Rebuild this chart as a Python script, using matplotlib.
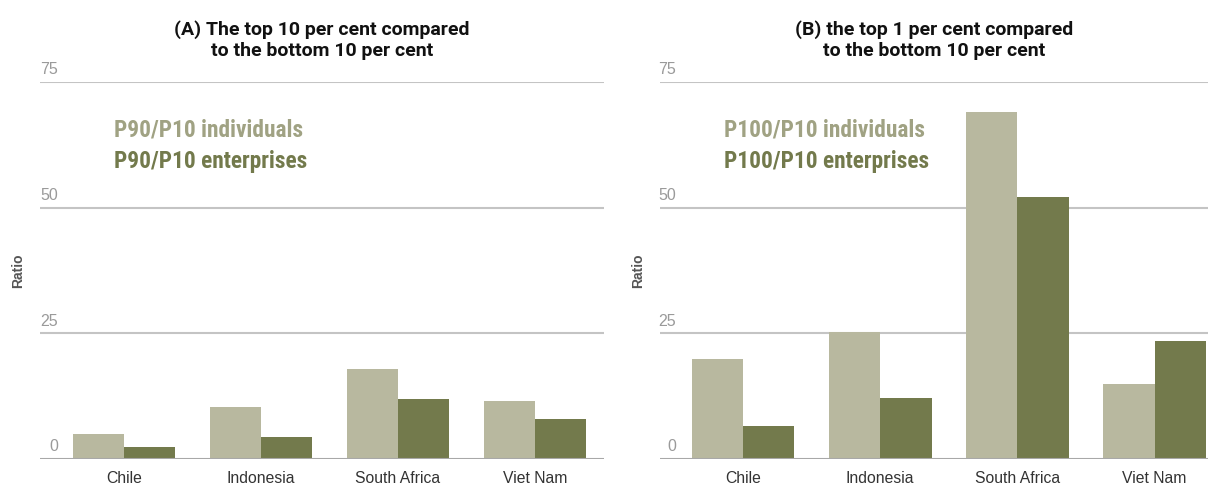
import numpy as np
import matplotlib.pyplot as plt

# Country ratios, top vs bottom deciles
countries = ['Chile', 'Indonesia', 'South Africa', 'Viet Nam']
p90_individuals = [5.0, 10.3, 17.9, 11.5]
p90_enterprises = [2.4, 4.4, 11.9, 8.0]
p100_individuals = [19.9, 25.2, 69.0, 14.9]
p100_enterprises = [6.6, 12.2, 52.1, 23.5]
yticks = [0, 25, 50, 75]

light = '#b8b89f'
dark = '#737a4c'
light_text = '#a0a283'
grid_col = '#c4c4c4'
narrow = ['Roboto Condensed', 'IBM Plex Sans Condensed', 'Liberation Sans Narrow', 'DejaVu Sans']
heading = ['Roboto', 'DejaVu Sans']
plain = ['Liberation Sans', 'DejaVu Sans']

fig = plt.figure(figsize=(12.08, 4.84), dpi=100)

panels = [
    dict(rect=[40 / 1208, 25 / 484, 564 / 1208, 377 / 484],
         xlim=(-0.613, 3.504), tick_x=0.032, leg_x=0.131,
         title='(A) The top 10 per cent compared\nto the bottom 10 per cent',
         ind=p90_individuals, ent=p90_enterprises,
         labels=('P90/P10 individuals', 'P90/P10 enterprises'), ratio_x=18),
    dict(rect=[660 / 1208, 25 / 484, 548 / 1208, 377 / 484],
         xlim=(-0.605, 3.39), tick_x=0.029, leg_x=0.117,
         title='(B) the top 1 per cent compared\nto the bottom 10 per cent',
         ind=p100_individuals, ent=p100_enterprises,
         labels=('P100/P10 individuals', 'P100/P10 enterprises'), ratio_x=638),
]

x = np.arange(len(countries))
w = 0.375

for p in panels:
    ax = fig.add_axes(p['rect'])
    ax.set_xlim(*p['xlim'])
    ax.set_ylim(0, 75)
    for v in yticks[1:]:
        ax.axhline(v, color=grid_col, lw=1.5, zorder=0)
    ax.axhline(0, color='#a8a8a8', lw=1.5, zorder=3)

    ax.bar(x - w / 2, p['ind'], w, color=light, zorder=2)
    ax.bar(x + w / 2, p['ent'], w, color=dark, zorder=2)

    for sp in ax.spines.values():
        sp.set_visible(False)
    ax.set_yticks([])
    ax.set_xticks(x)
    ax.set_xticklabels(countries, fontsize=11.3, color='#333333', family=plain)
    ax.tick_params(axis='x', length=0, pad=8.5)
    ax.patch.set_visible(False)

    # value labels sit just above each gridline
    trans = ax.get_yaxis_transform()
    for v in yticks:
        ax.text(p['tick_x'], v + 0.9, str(v), transform=trans, ha='right', va='bottom',
                fontsize=11.5, color='#9a9a9a', family=plain)

    ax.text(p['leg_x'], 65.4, p['labels'][0], fontsize=16.8, fontweight='bold',
            color=light_text, family=narrow, va='center', transform=trans)
    ax.text(p['leg_x'], 59.2, p['labels'][1], fontsize=16.8, fontweight='bold',
            color=dark, family=narrow, va='center', transform=trans)

    ax.text(0.5, 1.058, p['title'], transform=ax.transAxes, ha='center', va='bottom',
            fontsize=14, fontweight='bold', color='#111111', family=heading,
            linespacing=1.2)

    fig.text(p['ratio_x'] / 1208, (484 - 271) / 484, 'Ratio', rotation=90,
             ha='center', va='center', fontsize=10, fontweight='bold',
             color='#555555', family=plain)

fig.savefig('out.png', dpi=100)
